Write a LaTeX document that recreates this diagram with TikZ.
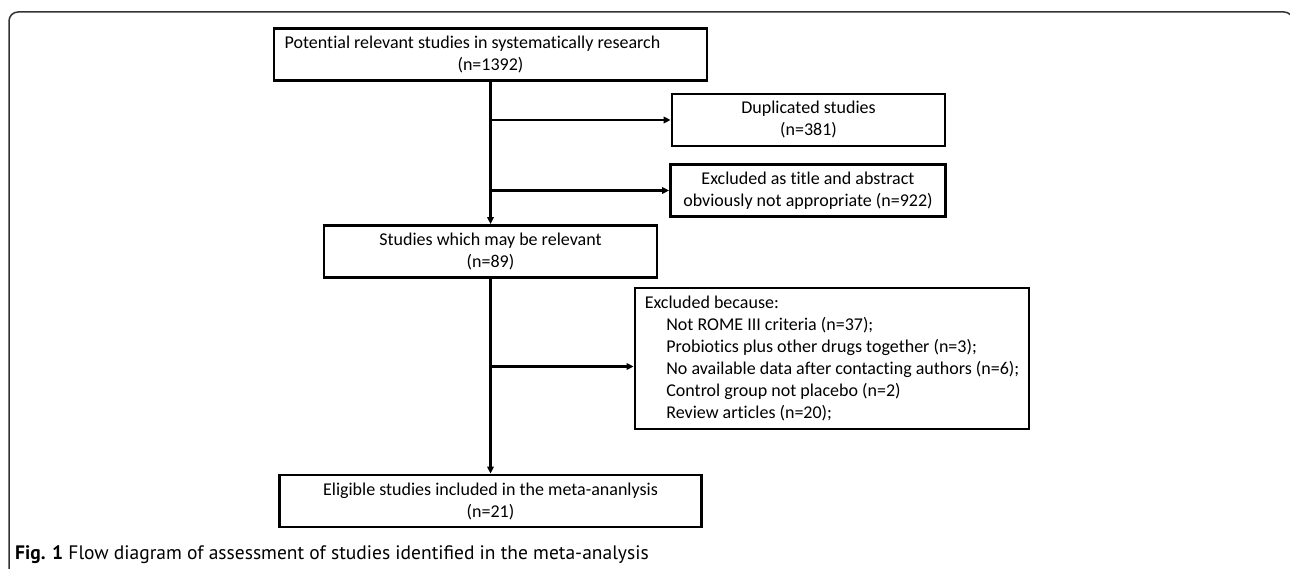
\documentclass[tikz,border=0pt]{standalone}
\usepackage{fontspec}
\setmainfont{Carlito}[Ligatures=NoCommon]
\newfontfamily\capfont{PT Sans}
\usetikzlibrary{arrows.meta,positioning}

\begin{document}
\begin{tikzpicture}[
  x=1pt,y=-1pt,
  line/.style={-{Triangle[length=7pt,width=6.5pt]},line width=2.2pt,draw=black},
  frame/.style={draw=black!80,line width=1.5pt,rounded corners=9pt},
  box/.style={rectangle,draw=black,line width=2.8pt,minimum height=52pt,inner sep=4pt,align=center,font=\fontsize{18}{22}\selectfont},
  boxl/.style={box,align=left},
  figcap/.style={anchor=west,inner sep=0pt,font=\capfont\fontsize{19.5}{24}\selectfont}
]
\useasboundingbox (0,0) rectangle (1290,569);

% outer frame, cut at the page edge
\begin{scope}
\clip (0,0) rectangle (1290,569);
\draw[frame] (9,600) -- (9,12) -- (1293,12) -- (1293,600);
\end{scope}

% main column
\node[box,minimum width=433pt] (src) at (490.5,54.5) {Potential relevant studies in systematically research\hspace*{2em}\\(n=1392)};
\node[box,minimum width=333pt] (rel) at (490.5,251.5) {Studies which may be relevant\\(n=89)};
\node[box,minimum width=422pt] (incl) at (490.5,501) {Eligible studies included in the meta-ananlysis\\(n=21)};

% exclusions (right)
\node[box,minimum width=273pt] (dup) at (808.5,120) {Duplicated studies\\(n=381)};
\node[box,minimum width=275pt] (ttl) at (808,190.5) {Excluded as title and abstract\\obviously not appropriate (n=922)};
\node[boxl,minimum width=394pt,minimum height=141pt] (why) at (832,358.5) {Excluded because:\\
  \hspace*{1.2em}Not ROME III criteria (n=37);\\
  \hspace*{1.2em}Probiotics plus other drugs together (n=3);\\
  \hspace*{1.2em}No available data after contacting authors (n=6);\\
  \hspace*{1.2em}Control group not placebo (n=2)\\
  \hspace*{1.2em}Review articles (n=20);};

% branch points on the spine
\coordinate (j1) at (src.south |- dup.west);
\coordinate (j2) at (src.south |- ttl.west);
\coordinate (j3) at (490.5,366.5);

\draw[line] (src.south) -- (rel.north);
\draw[line] (j1) -- (dup.west);
\draw[line] (j2) -- (ttl.west);
\draw[line] (rel.south) -- (incl.north);
\draw[line] (j3) -- (j3 -| why.west);

% caption
\node[figcap] (fig) at (15,555) {\textbf{Fig. 1} Flow diagram of assessment of studies identified in the meta-analysis};

\end{tikzpicture}
\end{document}
